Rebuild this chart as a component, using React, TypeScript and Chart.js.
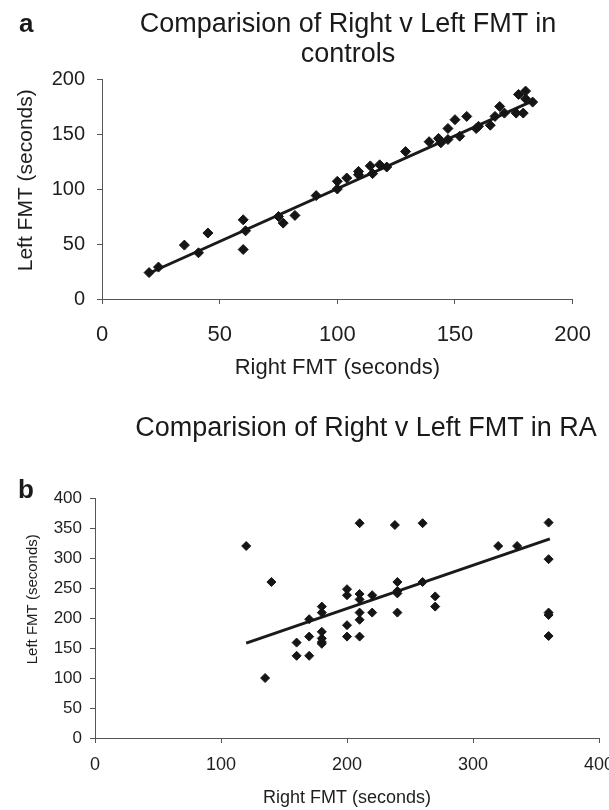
import React, { useEffect, useRef } from "react";
import { Chart, registerables } from "chart.js";

Chart.register(...registerables);

const FONT = "'Liberation Sans', Arial, Helvetica, sans-serif";
const INK = "#151515";
const AXIS = "#555555";

// ---- Panel a: controls ----
const controlsRight = [20, 24, 35, 41, 45, 60, 60, 61, 75, 77, 82, 91, 100, 100, 104, 109, 109, 114, 115, 118, 121, 129, 139, 143, 144, 147, 147, 150, 152, 155, 159, 160, 165, 167, 169, 171, 176, 179, 177, 180, 180, 183];
const controlsLeft = [24, 29, 49, 42, 60, 72, 45, 62, 75, 69, 76, 94, 107, 100, 110, 113, 116, 121, 114, 122, 120, 134, 143, 146, 142, 155, 145, 163, 148, 166, 155, 157, 158, 166, 175, 169, 169, 169, 186, 189, 182, 179];
const controlsFitRight = [19, 184];
const controlsFitLeft = [22.5, 181];
const controlsAxisMax = 200;
const controlsStep = 50;

// ---- Panel b: RA ----
const raRight = [120, 140, 135, 160, 160, 170, 170, 170, 180, 180, 180, 180, 180, 180, 200, 200, 200, 200, 210, 210, 210, 210, 210, 210, 220, 220, 238, 240, 240, 240, 240, 260, 260, 270, 270, 320, 335, 360, 360, 360, 360, 360];
const raLeft = [320, 260, 100, 159, 137, 198, 169, 137, 219, 209, 177, 166, 160, 157, 248, 238, 188, 169, 358, 240, 231, 209, 197, 169, 238, 209, 355, 260, 245, 241, 209, 358, 260, 236, 219, 320, 320, 359, 298, 209, 205, 170];
const raFitRight = [120, 361];
const raFitLeft = [158, 332];
const raXMax = 400;
const raXStep = 100;
const raYMax = 400;
const raYStep = 50;

const titleA = ["Comparision of Right v Left FMT in", "controls"];
const titleB = "Comparision of Right v Left FMT in RA";
const xTitle = "Right FMT (seconds)";
const yTitle = "Left FMT (seconds)";

function pts(xs: number[], ys: number[]) {
  return xs.map((x, i) => ({ x, y: ys[i] }));
}

function axis(o: {
  max: number;
  step: number;
  tickSize: number;
  tickPad: number;
  title: string;
  titleSize: number;
  titlePad: any;
  fit: (s: any) => void;
}) {
  return {
    type: "linear",
    min: 0,
    max: o.max,
    ticks: {
      stepSize: o.step,
      padding: o.tickPad,
      color: "#1e1e1e",
      font: { family: FONT, size: o.tickSize },
      maxRotation: 0,
    },
    grid: { drawOnChartArea: false, drawTicks: true, tickLength: 5, color: AXIS, lineWidth: 1 },
    border: { display: true, color: AXIS, width: 1 },
    title: {
      display: true,
      text: o.title,
      color: "#1e1e1e",
      font: { family: FONT, size: o.titleSize },
      padding: o.titlePad,
    },
    afterFit: o.fit,
  };
}

function useChart(ref: React.RefObject<HTMLCanvasElement>, makeConfig: () => any) {
  useEffect(() => {
    if (!ref.current) return;
    const chart = new Chart(ref.current, makeConfig());
    return () => chart.destroy();
  }, []);
}

export default function App() {
  const refA = useRef<HTMLCanvasElement>(null);
  const refB = useRef<HTMLCanvasElement>(null);

  useChart(refA, () => ({
    type: "scatter",
    data: {
      datasets: [
        {
          data: pts(controlsRight, controlsLeft),
          pointStyle: "rectRot",
          pointRadius: 5,
          backgroundColor: INK,
          borderColor: INK,
          borderWidth: 1,
        },
        {
          data: pts(controlsFitRight, controlsFitLeft),
          showLine: true,
          pointRadius: 0,
          borderColor: "#1a1a1a",
          borderWidth: 3,
        },
      ],
    },
    options: {
      animation: false,
      responsive: false,
      events: [],
      layout: { padding: { left: 0, right: 29, top: 79, bottom: 19 } },
      plugins: { legend: { display: false }, tooltip: { enabled: false } },
      scales: {
        x: axis({
          max: controlsAxisMax,
          step: controlsStep,
          tickSize: 22,
          tickPad: 18,
          title: xTitle,
          titleSize: 22,
          titlePad: { top: 0, bottom: 0 },
          fit: (s: any) => {
            s.height = 82;
          },
        }),
        y: axis({
          max: controlsAxisMax,
          step: controlsStep,
          tickSize: 20,
          tickPad: 12,
          title: "   " + yTitle,
          titleSize: 21,
          titlePad: { top: 14, bottom: 0 },
          fit: (s: any) => {
            s.width = 102;
          },
        }),
      },
    },
  }));

  useChart(refB, () => ({
    type: "scatter",
    data: {
      datasets: [
        {
          data: pts(raRight, raLeft),
          pointStyle: "rectRot",
          pointRadius: 4.5,
          backgroundColor: INK,
          borderColor: INK,
          borderWidth: 1,
        },
        {
          data: pts(raFitRight, raFitLeft),
          showLine: true,
          pointRadius: 0,
          borderColor: "#1a1a1a",
          borderWidth: 3,
        },
      ],
    },
    options: {
      animation: false,
      responsive: false,
      events: [],
      layout: { padding: { left: 0, right: 10, top: 98, bottom: 1 } },
      plugins: { legend: { display: false }, tooltip: { enabled: false } },
      scales: {
        x: axis({
          max: raXMax,
          step: raXStep,
          tickSize: 18,
          tickPad: 11,
          title: xTitle,
          titleSize: 18,
          titlePad: { top: 0, bottom: 0 },
          fit: (s: any) => {
            s.height = 71;
            s.paddingRight = 0;
            s.paddingLeft = 0;
          },
        }),
        y: axis({
          max: raYMax,
          step: raYStep,
          tickSize: 17,
          tickPad: 8,
          title: "         " + yTitle,
          titleSize: 15,
          titlePad: { top: 24, bottom: 0 },
          fit: (s: any) => {
            s.width = 95;
          },
        }),
      },
    },
  }));

  const textBase: React.CSSProperties = {
    position: "absolute",
    fontFamily: FONT,
    color: "#1a1a1a",
    whiteSpace: "nowrap",
    fontSize: 27,
    lineHeight: "30px",
  };

  return (
    <div
      style={{
        position: "absolute",
        left: 0,
        top: 0,
        width: 609,
        height: 810,
        overflow: "hidden",
        background: "#ffffff",
      }}
    >
      <canvas
        ref={refA}
        width={609}
        height={400}
        style={{ position: "absolute", left: 0, top: 0, width: 609, height: 400 }}
      />
      <canvas
        ref={refB}
        width={609}
        height={410}
        style={{ position: "absolute", left: 0, top: 400, width: 609, height: 410 }}
      />
      <div style={{ ...textBase, left: 19, top: 8, fontSize: 26, fontWeight: "bold" }}>a</div>
      <div style={{ ...textBase, left: 18, top: 474, fontSize: 26, fontWeight: "bold" }}>b</div>
      <div style={{ ...textBase, left: 348, top: 8, transform: "translateX(-50%)", textAlign: "center" }}>
        {titleA[0]}
        <br />
        {titleA[1]}
      </div>
      <div style={{ ...textBase, left: 366, top: 412, transform: "translateX(-50%)", textAlign: "center" }}>
        {titleB}
      </div>
    </div>
  );
}
